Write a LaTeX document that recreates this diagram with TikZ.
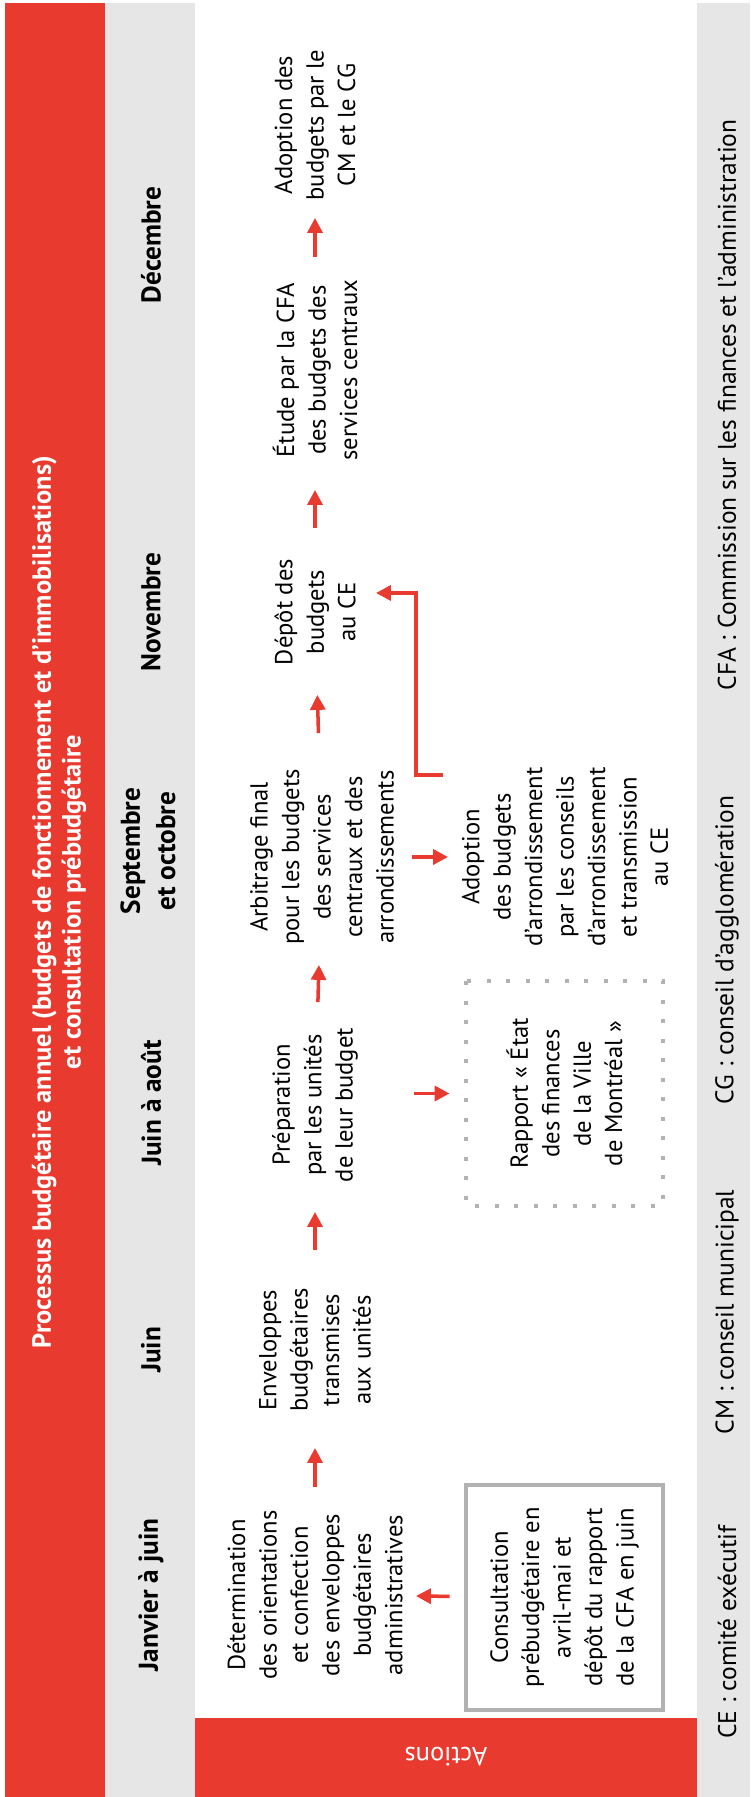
\documentclass[tikz,border=0pt]{standalone}
\usepackage{fontspec}
\setmainfont{PT Sans}
\usetikzlibrary{arrows.meta}
\definecolor{vmred}{RGB}{233,58,48}
\definecolor{vmgray}{RGB}{230,230,230}
\definecolor{boxgray}{RGB}{178,178,178}

\begin{document}
\begin{tikzpicture}[x=0.02cm,y=-0.02cm,
  txt/.style={rotate=90,align=center,font=\fontsize{14}{17.9}\selectfont},
  month/.style={rotate=90,align=center,font=\fontsize{15.5}{20}\selectfont\bfseries},
  legend/.style={rotate=90,font=\fontsize{14.5}{17}\selectfont},
  framebox/.style={txt,minimum width=4.5cm,minimum height=3.94cm,line width=1.8pt},
  flow/.style={draw=vmred,line width=2pt,-{Triangle[length=8.5pt,width=8.5pt]}}]


\coordinate (cTitle) at (59,902);
\coordinate (cJan) at (151,1595);
\coordinate (cJun) at (151,1350);
\coordinate (cJuA) at (151,1103);
\coordinate (cSep) at (148,851);
\coordinate (cNov) at (151,612);
\coordinate (cDec) at (151,245);
\coordinate (cDet) at (315,1595);
\coordinate (cEnv) at (315,1350);
\coordinate (cPrep) at (315,1105);
\coordinate (cArb) at (322,857);
\coordinate (cDepot) at (315,612);
\coordinate (cEtude) at (315,370);
\coordinate (cAdCM) at (315,125);
\coordinate (cCons) at (564.5,1597.5);
\coordinate (cRapp) at (564.5,1093.5);
\coordinate (cAdAr) at (565,857);
\coordinate (cAct) at (446,1757);
\coordinate (lstart) at (443,775);
\coordinate (lbend) at (416,775);
\coordinate (ltip) at (376,593);

\useasboundingbox (0,0) rectangle (750,1797);
\fill[vmred] (5,3) rectangle (105,1797);
\fill[vmgray] (105,3) rectangle (195,1797);
\fill[vmgray] (697,3) rectangle (750,1797);
\fill[vmred] (195,1718) rectangle (697,1797);

\node[month,text=white,font=\fontsize{15}{17}\selectfont\bfseries] (title) at (cTitle)
  {Processus budgétaire annuel (budgets de fonctionnement et d’immobilisations)\\et consultation prébudgétaire};
\node[month] (jan) at (cJan) {Janvier à juin};
\node[month] (jun) at (cJun) {Juin};
\node[month] (jua) at (cJuA) {Juin à août};
\node[month] (sep) at (cSep) {Septembre\\et octobre};
\node[month] (nov) at (cNov) {Novembre};
\node[month] (dec) at (cDec) {Décembre};

\node[txt] (det) at (cDet) {Détermination\\des orientations\\et confection\\des enveloppes\\budgétaires\\administratives};
\node[txt] (env) at (cEnv) {Enveloppes\\budgétaires\\transmises\\aux unités};
\node[txt] (prep) at (cPrep) {Préparation\\par les unités\\de leur budget};
\node[txt] (arb) at (cArb) {Arbitrage final\\pour les budgets\\des services\\centraux et des\\arrondissements};
\node[txt] (depot) at (cDepot) {Dépôt des\\budgets\\au CE};
\node[txt] (etude) at (cEtude) {Étude par la CFA\\des budgets des\\services centraux};
\node[txt] (adcm) at (cAdCM) {Adoption des\\budgets par le\\CM et le CG};

\node[framebox,draw=boxgray] (cons) at (cCons) {Consultation\\prébudgétaire en\\avril-mai et\\dépôt du rapport\\de la CFA en juin};
\node[framebox,draw=boxgray,line width=2.3pt,dash pattern=on 2.3pt off 8.8pt] (rapp) at (cRapp) {Rapport «~État\\des finances\\de la Ville\\de Montréal~»};
\node[txt] (adar) at (cAdAr) {Adoption\\des budgets\\d’arrondissement\\par les conseils\\d’arrondissement\\et transmission\\au CE};

\node[text=white,rotate=180,font=\fontsize{15}{18}\selectfont] (act) at (cAct) {Actions};

\node[legend] (lce) at (727,1632) {CE~: comité exécutif};
\node[legend] (lcm) at (727,1312) {CM~: conseil municipal};
\node[legend] (lcg) at (727,950) {CG~: conseil d’agglomération};
\node[legend] (lcfa) at (727,405) {CFA~: Commission sur les finances et l’administration};

\draw[flow,shorten <=2.16cm,shorten >=1.96cm] (det.center) -- (env.center);
\draw[flow,shorten <=2.0cm,shorten >=2.14cm] (env.center) -- (prep.center);
\draw[flow,shorten <=2.06cm,shorten >=2.16cm] (prep.center) -- (arb.center);
\draw[flow,shorten <=2.48cm,shorten >=1.66cm] (arb.center) -- (depot.center);
\draw[flow,shorten <=1.68cm,shorten >=2.4cm] (depot.center) -- (etude.center);
\draw[flow,shorten <=2.26cm,shorten >=1.86cm] (etude.center) -- (adcm.center);
\draw[flow,shorten <=2.3cm,shorten >=2.02cm] (cons.center) -- (det.center);
\draw[flow,shorten <=1.98cm,shorten >=2.3cm] (prep.center |- rapp.center) -- (rapp.center);
\draw[flow,shorten <=1.8cm,shorten >=2.34cm] (arb.center) -- (adar.center);
\draw[flow] (lstart) -- (lbend) |- (ltip);

\end{tikzpicture}
\end{document}
